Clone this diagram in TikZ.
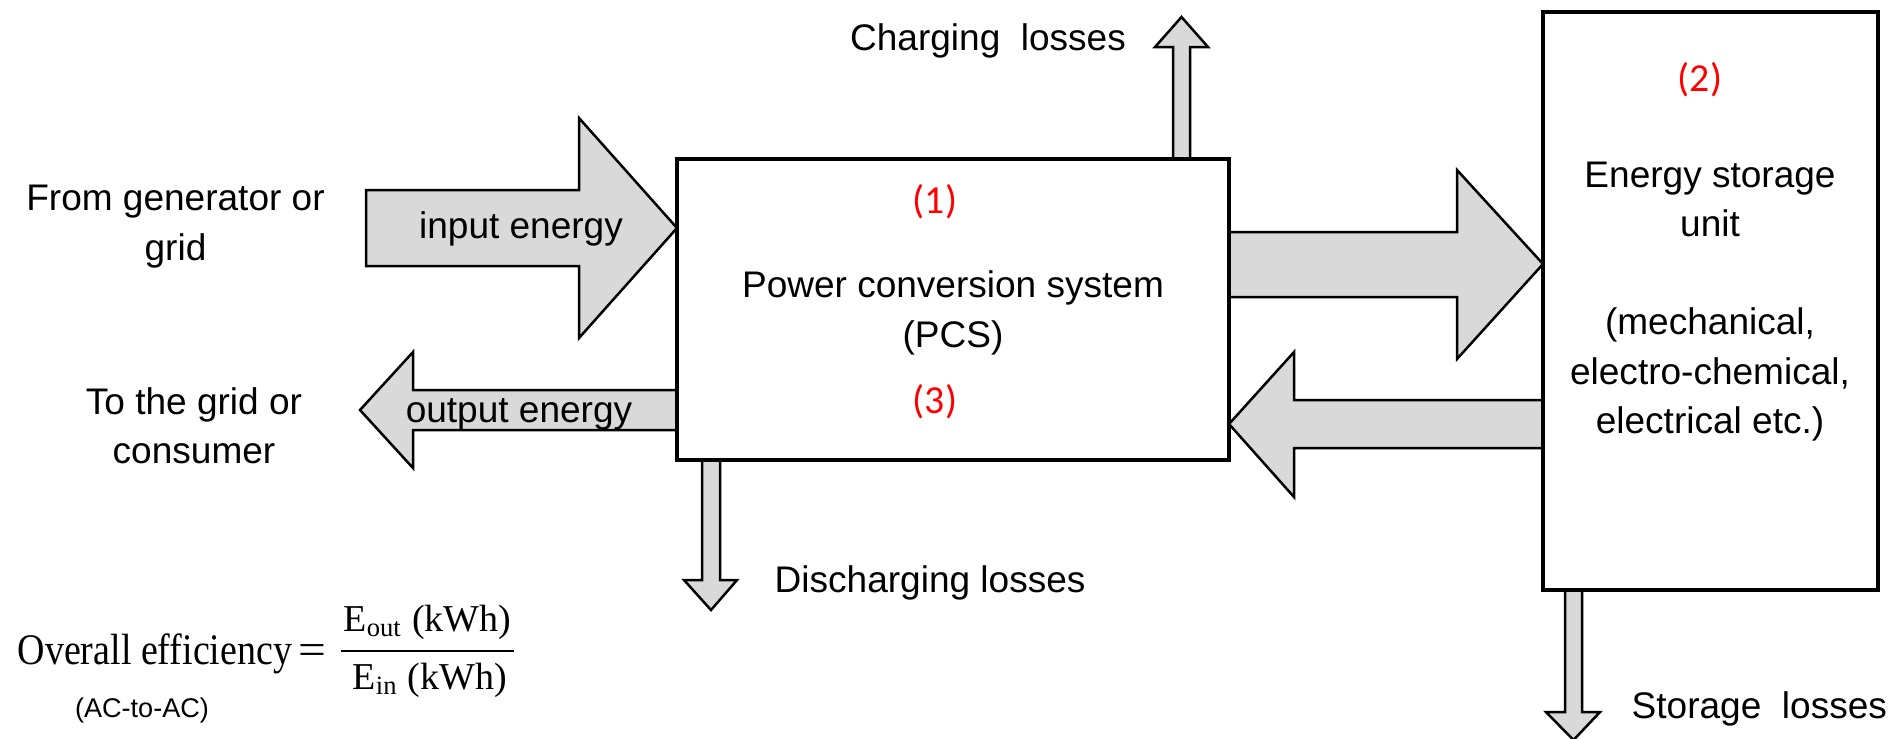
\documentclass[tikz,border=0pt]{standalone}
\usepackage{fontspec}
\setmainfont{Liberation Sans}
\newfontfamily\redfont{Carlito}
\newfontfamily\formfont{Liberation Serif}
\definecolor{arrowgray}{HTML}{D9D9D9}
\definecolor{numred}{HTML}{FF0000}
\begin{document}
\begin{tikzpicture}[x=0.01cm,y=-0.01cm,
  box/.style={draw=black, line width=1.28pt, fill=white, inner sep=0pt},
  blockarrow/.style={draw=black, line width=0.71pt, fill=arrowgray, line join=miter},
  lbl/.style={font=\fontsize{10.53}{13.94}\selectfont, inner sep=0pt, anchor=base},
  num/.style={font=\redfont\fontsize{11.3}{13}\selectfont, text=numred, inner sep=0pt, anchor=base},
  form/.style={font=\formfont\fontsize{10.8}{13}\selectfont, inner sep=0pt},
  smalllbl/.style={font=\fontsize{7.7}{9}\selectfont, inner sep=0pt, anchor=base},
  bar/.style={draw=black, line width=0.6pt}
]
\clip (0,0) rectangle (1901,738);
\fill[white] (0,0) rectangle (1901,738);

% centres of the two boxes (drawn later on top)
\coordinate (pcsC) at (953,309.5);
\coordinate (esuC) at (1710.5,301);

% block arrows
\filldraw[blockarrow] (366,190) -- (579,190) -- (579,118) -- (677,228) -- (579,338) -- (579,266) -- (366,266) -- cycle;
\filldraw[blockarrow] (677,390) -- (413,390) -- (413,352) -- (360,410) -- (413,468) -- (413,430) -- (677,430) -- cycle;
\filldraw[blockarrow] (1229,232) -- (1457,232) -- (1457,170) -- (1543,264) -- (1457,359) -- (1457,297) -- (1229,297) -- cycle;
\filldraw[blockarrow] (1543,400) -- (1294,400) -- (1294,352) -- (1229,424) -- (1294,497) -- (1294,448) -- (1543,448) -- cycle;
% loss arrows
\filldraw[blockarrow] (1173,159) -- (1173,47) -- (1155,47) -- (1181.5,17) -- (1208,47) -- (1190,47) -- (1190,159) -- cycle;
\filldraw[blockarrow] (702,460) -- (702,580) -- (684,580) -- (711,610) -- (737,580) -- (720,580) -- (720,460) -- cycle;
\filldraw[blockarrow] (1565,590) -- (1565,712) -- (1546,712) -- (1573.5,740) -- (1600,712) -- (1582,712) -- (1582,590) -- cycle;

% boxes
\node[box, minimum width=5.52cm, minimum height=3.01cm] (pcs) at (pcsC) {};
\node[box, minimum width=3.35cm, minimum height=5.78cm] (esu) at (esuC) {};

% texts (multi-line nodes: base = baseline of last line)
\node[lbl] (charge) at (988,50) {Charging\ \ losses};
\node[lbl, align=center] (src) at (175.5,260) {From generator or\\grid};
\node[lbl] (inE) at (521,238) {input energy};
\node[lbl, align=center] (dst) at (194,463) {To the grid or\\consumer};
\node[lbl] (outE) at (519,422) {output energy};
\node[lbl, align=center] (pcstext) at (953,347) {Power conversion system\\(PCS)};
\node[lbl, align=center] (esutext) at (1710,433) {Energy storage\\unit\\[13.94pt](mechanical,\\electro-chemical,\\electrical etc.)};
\node[lbl, anchor=base west] (dis) at (774,592) {Discharging losses};
\node[lbl, anchor=base west] (sto) at (1631,718) {Storage\ \ losses};

\node[num] (n1) at (935,213) {(1)};
\node[num] (n2) at (1700,91) {(2)};
\node[num] (n3) at (935,413) {(3)};

% formula
\node[form, anchor=base west] (eff) at (17,664) {\scalebox{1}[1.15]{Overall efficiency}};
\node[form, anchor=base] (eq) at (312,664) {\scalebox{1.3}[1.15]{=}};
\node[form, anchor=base west] (numer) at (343,631) {E\textsubscript{out} (kWh)};
\node[form, anchor=base west] (denom) at (352,689) {E\textsubscript{in} (kWh)};
\coordinate (barL) at (341,651);
\coordinate (barR) at (514,651);
\draw[bar] (barL) -- (barR);
\node[smalllbl] (acac) at (142,717) {(AC-to-AC)};
\end{tikzpicture}
\end{document}
